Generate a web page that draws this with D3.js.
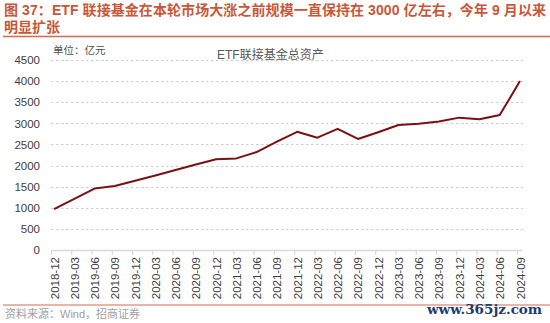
<!DOCTYPE html>
<html><head><meta charset="utf-8">
<script src="https://cdn.jsdelivr.net/npm/d3@7"></script>
<style>body{margin:0;background:#fff}svg{display:block}</style>
</head><body>
<svg id="c" width="550" height="323"></svg>
<script>
const categories = ["2018-12","2019-03","2019-06","2019-09","2019-12","2020-03","2020-06","2020-09","2020-12","2021-03","2021-06","2021-09","2021-12","2022-03","2022-06","2022-09","2022-12","2023-03","2023-06","2023-09","2023-12","2024-03","2024-06","2024-09"];
const etfFeederAssets = [970,1210,1455,1515,1640,1765,1895,2025,2150,2170,2320,2565,2800,2660,2870,2630,2790,2960,2990,3045,3135,3095,3195,4000];
const yTicks = [0,500,1000,1500,2000,2500,3000,3500,4000,4500];
const titleLines = ["图 37：ETF 联接基金在本轮市场大涨之前规模一直保持在 3000 亿左右，今年 9 月以来","明显扩张"];
const seriesName = "ETF联接基金总资产";
const unitLabel = "单位：亿元";
const sourceText = "资料来源：Wind，招商证券";
const watermark = "www.365jz.com";

const svg = d3.select("#c");
const x = d3.scalePoint().domain(categories).range([54, 520]);
const y = d3.scaleLinear().domain([0, 4500]).range([250, 60]);
const sans = "'Liberation Sans', Arial, 'Noto Sans CJK SC', sans-serif";

// title
const titleColor = "#c8573a";
svg.append("text").attr("x", 4).attr("y", 15).attr("fill", titleColor)
  .attr("font-family", sans).attr("font-weight", "bold").attr("font-size", 14)
  .attr("textLength", 542).attr("lengthAdjust", "spacing")
  .text(titleLines[0]);
svg.append("text").attr("x", 4).attr("y", 32).attr("fill", titleColor)
  .attr("font-family", sans).attr("font-weight", "bold").attr("font-size", 14)
  .text(titleLines[1]);
svg.append("line").attr("x1", 3).attr("x2", 550).attr("y1", 36.5).attr("y2", 36.5)
  .attr("stroke", "#d26a4c").attr("stroke-width", 1.5);

// gridlines
svg.append("g").selectAll("line").data(yTicks.filter(d => d > 0)).join("line")
  .attr("x1", 51).attr("x2", 523)
  .attr("y1", d => Math.round(y(d)) + 0.5).attr("y2", d => Math.round(y(d)) + 0.5)
  .attr("stroke", "#cfcfcf").attr("stroke-width", 1).attr("stroke-dasharray", "2.5,2.5");

// y axis labels
const yAxis = d3.axisLeft(y).tickValues(yTicks).tickFormat(d3.format("d")).tickSize(0).tickPadding(0);
const gy = svg.append("g").attr("transform", "translate(40,0)").call(yAxis);
gy.select(".domain").remove();
gy.selectAll("text").attr("font-family", sans).attr("font-size", 11.5).attr("fill", "#404040");

// x axis
svg.append("line").attr("x1", 51).attr("x2", 522).attr("y1", 250.5).attr("y2", 250.5)
  .attr("stroke", "#d9d9d9").attr("stroke-width", 1.5);
const gx = svg.append("g").attr("transform", "translate(0,250)")
  .call(d3.axisBottom(x).tickSize(0).tickPadding(0));
gx.select(".domain").remove();
gx.selectAll(".tick").append("line").attr("x1", -3).attr("x2", -3).attr("y1", 0).attr("y2", 5)
  .attr("stroke", "#d9d9d9").attr("stroke-width", 1.2);
gx.selectAll("text").attr("transform", "rotate(-90)").attr("text-anchor", "end")
  .attr("x", -7).attr("y", 0).attr("dy", "0.35em")
  .attr("font-family", sans).attr("font-size", 11.5).attr("fill", "#404040");

// line
svg.append("path").datum(etfFeederAssets)
  .attr("fill", "none").attr("stroke", "#7a1010").attr("stroke-width", 2)
  .attr("stroke-linejoin", "round")
  .attr("d", d3.line().x((d, i) => x(categories[i])).y(d => y(d)));

// labels
svg.append("text").attr("x", 53).attr("y", 54).attr("font-family", "'Noto Sans CJK SC', sans-serif")
  .attr("font-size", 10.5).attr("fill", "#505050").text(unitLabel);
svg.append("text").attr("x", 217).attr("y", 59).attr("font-family", sans)
  .attr("font-size", 12).attr("fill", "#595959").text(seriesName);

// source
svg.append("line").attr("x1", 3).attr("x2", 550).attr("y1", 305).attr("y2", 305)
  .attr("stroke", "#d26a4c").attr("stroke-width", 1.2);
svg.append("text").attr("x", 5).attr("y", 318).attr("font-family", sans)
  .attr("font-size", 11).attr("fill", "#a0a0a0").text(sourceText);
svg.append("text").attr("x", 427).attr("y", 314).attr("font-family", "'DejaVu Serif', 'Liberation Serif', serif")
  .attr("font-weight", "bold").attr("font-size", 13.5).attr("fill", "#1c3c6e").text(watermark);
</script>
</body></html>
